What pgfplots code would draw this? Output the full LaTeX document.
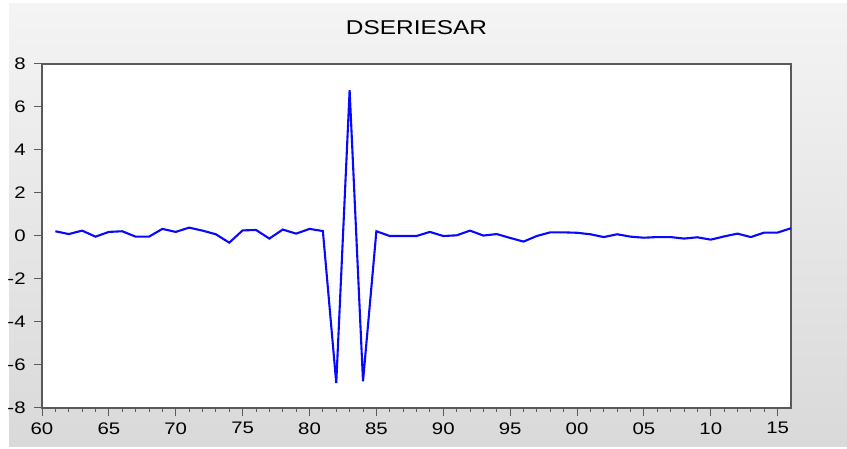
\documentclass[border=0pt]{standalone}
\usepackage{pgfplots}
\pgfplotsset{compat=1.18}
\usepackage{fontspec}
\setmainfont{Liberation Sans}[FakeStretch=1.22]

\definecolor{frametop}{HTML}{F4F4F4}
\definecolor{framebot}{HTML}{D9D9D9}
\definecolor{axisgray}{HTML}{5A5A5A}
\definecolor{serblue}{HTML}{0808FF}

% 1 px of the reference = 0.5pt
\begin{document}
\begin{tikzpicture}[x=0.5pt,y=0.5pt]
\useasboundingbox (0,0) rectangle (847,449);
\fill[white] (0,0) rectangle (847,449);
\shade[top color=frametop, bottom color=framebot] (9,2) rectangle (847,445);

\begin{axis}[
  at={(21pt,20.5pt)}, anchor=south west,
  scale only axis, width=374.5pt, height=172pt,
  xmin=1960, xmax=2016, ymin=-8, ymax=8,
  axis background/.style={fill=white},
  axis line style={axisgray, line width=0.6pt},
  every tick/.style={axisgray, line width=0.5pt},
  tick align=outside,
  xtick pos=left, ytick pos=left,
  xtick={1960,1965,...,2015},
  xticklabels={60,65,70,75,80,85,90,95,00,05,10,15},
  minor x tick num=4,
  ytick={-8,-6,...,8},
  major tick length=4pt, minor tick length=2pt,
  /pgf/number format/assume math mode=true,
  tick label style={font=\fontsize{8.35}{10}\selectfont},
  xticklabel style={inner sep=0pt, anchor=north, yshift=-3pt},
  yticklabel style={inner sep=0pt, anchor=east, xshift=-4pt},
  clip=false,
]
\addplot[serblue, line width=1.05pt] coordinates {
(1961,0.22) (1962,0.09) (1963,0.25) (1964,-0.03) (1965,0.19) (1966,0.22)
(1967,-0.03) (1968,-0.03) (1969,0.33) (1970,0.19) (1971,0.39) (1972,0.25)
(1973,0.08) (1974,-0.31) (1975,0.26) (1976,0.28) (1977,-0.12) (1978,0.30)
(1979,0.11) (1980,0.33) (1981,0.23) (1982,-6.84) (1983,6.78) (1984,-6.76)
(1985,0.22) (1986,0.0) (1987,0.0) (1988,0.0) (1989,0.19) (1990,0.0)
(1991,0.03) (1992,0.25) (1993,0.02) (1994,0.09) (1995,-0.09) (1996,-0.26)
(1997,0.0) (1998,0.17) (1999,0.17) (2000,0.15) (2001,0.08) (2002,-0.05)
(2003,0.08) (2004,-0.03) (2005,-0.08) (2006,-0.05) (2007,-0.05) (2008,-0.12)
(2009,-0.06) (2010,-0.17) (2011,-0.02) (2012,0.11) (2013,-0.05) (2014,0.16)
(2015,0.16) (2016,0.36)
};
\end{axis}
\node[anchor=base, inner sep=0pt, font=\fontsize{10}{12}\selectfont] at (416.5,414) {DSERIESAR};
\end{tikzpicture}
\end{document}
